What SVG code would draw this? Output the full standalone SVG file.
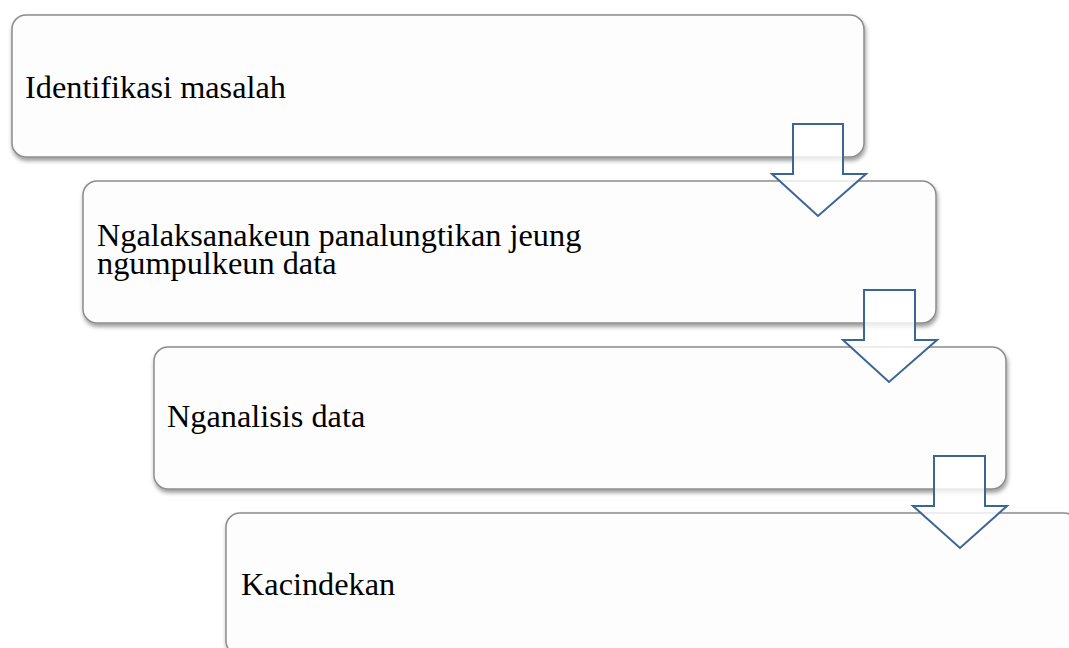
<svg xmlns="http://www.w3.org/2000/svg" width="1069" height="648" viewBox="0 0 1069 648">
<defs>
<filter id="sh" x="-5%" y="-10%" width="110%" height="125%">
<feDropShadow dx="1" dy="3" stdDeviation="2" flood-color="#000" flood-opacity="0.4"/>
</filter>
<style>
.box{fill:#fdfdfd;stroke:#8c8c8c;stroke-width:1.5;filter:url(#sh)}
.lbl{font-family:"Liberation Serif","Times New Roman",serif;font-size:32.3px;fill:#000}
.arr{fill:#ffffff;fill-opacity:0.8;stroke:#3b6497;stroke-width:2;stroke-linejoin:miter}
</style>
</defs>
<rect width="1069" height="648" fill="#ffffff"/>
<g id="node1"><rect class="box" x="12" y="15" width="852" height="142" rx="14"/><text class="lbl" x="25" y="98">Identifikasi masalah</text></g>
<g id="node2"><rect class="box" x="83" y="181" width="853" height="142" rx="14"/><text class="lbl" x="97" y="246"><tspan x="97" y="246">Ngalaksanakeun panalungtikan jeung</tspan><tspan x="97" y="274">ngumpulkeun data</tspan></text></g>
<g id="node3"><rect class="box" x="154" y="347" width="852" height="142" rx="14"/><text class="lbl" x="167" y="427">Nganalisis data</text></g>
<g id="node4"><rect class="box" x="226" y="513" width="852" height="142" rx="14"/><text class="lbl" x="241" y="595">Kacindekan</text></g>
<g id="connectors">
<path class="arr" d="M793,124 H843 V174 H866 L818,216 L772,174 H793 Z"/>
<path class="arr" d="M864,290 H915 V340 H937 L889,382 L843,340 H864 Z"/>
<path class="arr" d="M934,456 H985 V506 H1007 L960,548 L913,506 H934 Z"/>
</g>
</svg>
